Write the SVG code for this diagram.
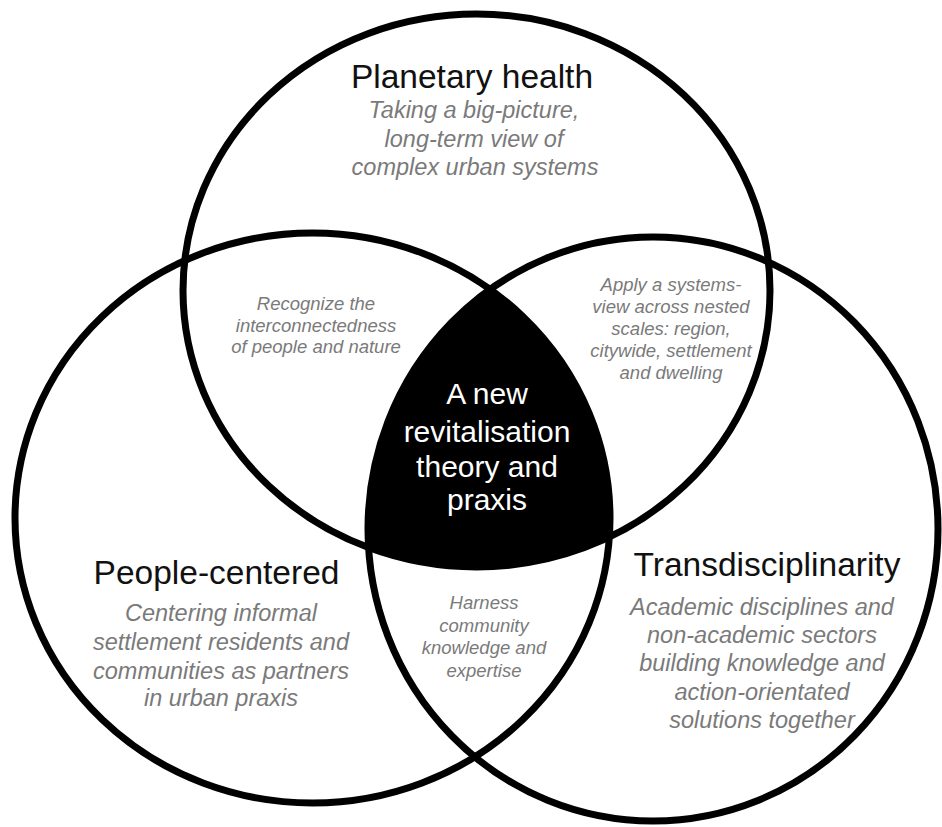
<svg xmlns="http://www.w3.org/2000/svg" width="942" height="827" viewBox="0 0 942 827">
  <defs>
    <style>
      .ring { fill: none; stroke: #000; stroke-width: 7; }
      .title { font-family: "Liberation Sans", Arial, sans-serif; font-size: 33.5px; fill: #111; text-anchor: middle; }
      .sub { font-family: "Liberation Sans", Arial, sans-serif; font-size: 23.5px; font-style: italic; fill: #7a7a7a; text-anchor: middle; }
      .small { font-family: "Liberation Sans", Arial, sans-serif; font-size: 18.5px; font-style: italic; fill: #7a7a7a; text-anchor: middle; }
      .core { font-family: "Liberation Sans", Arial, sans-serif; font-size: 30px; fill: #fff; text-anchor: middle; }
    </style>
    <clipPath id="clipL"><ellipse cx="312.5" cy="518" rx="297.5" ry="285"/></clipPath>
    <clipPath id="clipR"><ellipse cx="653" cy="529" rx="285" ry="292"/></clipPath>
  </defs>
  <rect width="942" height="827" fill="#fff"/>

  <g id="core">
    <g clip-path="url(#clipL)">
      <ellipse cx="476.5" cy="290.5" rx="293.5" ry="276.5" fill="#000" clip-path="url(#clipR)"/>
    </g>
    <text class="core" x="487" y="404">A new</text>
    <text class="core" x="487" y="442">revitalisation</text>
    <text class="core" x="487" y="477">theory and</text>
    <text class="core" x="487" y="510">praxis</text>
  </g>

  <g id="planetary-health">
    <ellipse class="ring" cx="476.5" cy="290.5" rx="293.5" ry="276.5"/>
    <text class="title" x="472" y="88">Planetary health</text>
    <text class="sub" x="474" y="118">Taking a big-picture,</text>
    <text class="sub" x="474" y="147">long-term view of</text>
    <text class="sub" x="475" y="175">complex urban systems</text>
  </g>

  <g id="people-centered">
    <ellipse class="ring" cx="312.5" cy="518" rx="297.5" ry="285"/>
    <text class="title" x="216.5" y="584">People-centered</text>
    <text class="sub" x="221" y="621">Centering informal</text>
    <text class="sub" x="221" y="650">settlement residents and</text>
    <text class="sub" x="221" y="679">communities as partners</text>
    <text class="sub" x="221" y="706">in urban praxis</text>
  </g>

  <g id="transdisciplinarity">
    <ellipse class="ring" cx="653" cy="529" rx="285" ry="292"/>
    <text class="title" x="767" y="576">Transdisciplinarity</text>
    <text class="sub" x="762" y="615">Academic disciplines and</text>
    <text class="sub" x="762" y="643">non-academic sectors</text>
    <text class="sub" x="762" y="671">building knowledge and</text>
    <text class="sub" x="762" y="700">action-orientated</text>
    <text class="sub" x="762" y="728">solutions together</text>
  </g>

  <g id="people-planet">
    <text class="small" x="316" y="310">Recognize the</text>
    <text class="small" x="316" y="332">interconnectedness</text>
    <text class="small" x="316" y="353">of people and nature</text>
  </g>

  <g id="planet-trans">
    <text class="small" x="671" y="291">Apply a systems-</text>
    <text class="small" x="671" y="313">view across nested</text>
    <text class="small" x="671" y="335">scales: region,</text>
    <text class="small" x="671" y="357">citywide, settlement</text>
    <text class="small" x="671" y="379">and dwelling</text>
  </g>

  <g id="people-trans">
    <text class="small" x="484" y="609">Harness</text>
    <text class="small" x="484" y="632">community</text>
    <text class="small" x="484" y="654">knowledge and</text>
    <text class="small" x="484" y="677">expertise</text>
  </g>

  <g id="connectors"/>
</svg>
